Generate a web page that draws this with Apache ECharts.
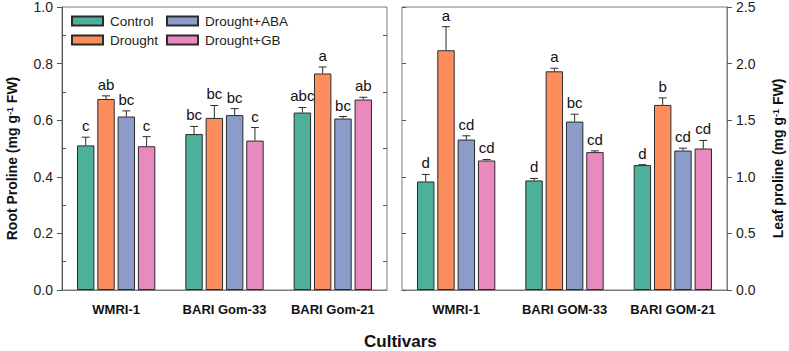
<!DOCTYPE html>
<html>
<head>
<meta charset="utf-8">
<script src="https://cdn.jsdelivr.net/npm/echarts@6/dist/echarts.min.js"></script>
<style>html,body{margin:0;padding:0;background:#fff}#c{width:789px;height:351px}</style>
</head>
<body>
<div id="c"></div>
<script>
// ---- data ----
const treatments = ['Control', 'Drought', 'Drought+ABA', 'Drought+GB'];
const rootCultivars = ['WMRI-1', 'BARI Gom-33', 'BARI Gom-21'];
const leafCultivars = ['WMRI-1', 'BARI GOM-33', 'BARI GOM-21'];
const rootTicks = [0, 0.2, 0.4, 0.6, 0.8, 1.0];
const leafTicks = [0, 0.5, 1.0, 1.5, 2.0, 2.5];

const rootControl = [0.511, 0.551, 0.627];
const rootDrought = [0.675, 0.608, 0.765];
const rootABA = [0.613, 0.618, 0.606];
const rootGB = [0.508, 0.528, 0.673];
const rootControlSE = [0.029, 0.027, 0.018];
const rootDroughtSE = [0.011, 0.044, 0.023];
const rootABASE = [0.020, 0.023, 0.007];
const rootGBSE = [0.034, 0.046, 0.008];
const rootControlSig = ['c', 'bc', 'abc'];
const rootDroughtSig = ['ab', 'bc', 'a'];
const rootABASig = ['bc', 'bc', 'bc'];
const rootGBSig = ['c', 'c', 'ab'];

const leafControl = [0.959, 0.968, 1.103];
const leafDrought = [2.118, 1.932, 1.635];
const leafABA = [1.329, 1.488, 1.232];
const leafGB = [1.144, 1.218, 1.250];
const leafControlSE = [0.062, 0.017, 0.004];
const leafDroughtSE = [0.208, 0.027, 0.062];
const leafABASE = [0.033, 0.065, 0.021];
const leafGBSE = [0.009, 0.011, 0.071];
const leafControlSig = ['d', 'd', 'd'];
const leafDroughtSig = ['a', 'a', 'b'];
const leafABASig = ['cd', 'bc', 'cd'];
const leafGBSig = ['cd', 'cd', 'cd'];

// ---- styling ----
const colors = ['#4cb09b', '#fc8d5c', '#8b9ccb', '#e98abe'];
const FONT = 'Liberation Sans, Arial, Helvetica, sans-serif';
const frameColor = '#7a7a7a';
const BAR_W = 17.4;
const BAR_GAP = 2.9;

const rootMeans = [rootControl, rootDrought, rootABA, rootGB];
const rootSEs = [rootControlSE, rootDroughtSE, rootABASE, rootGBSE];
const rootSigs = [rootControlSig, rootDroughtSig, rootABASig, rootGBSig];
const leafMeans = [leafControl, leafDrought, leafABA, leafGB];
const leafSEs = [leafControlSE, leafDroughtSE, leafABASE, leafGBSE];
const leafSigs = [leafControlSig, leafDroughtSig, leafABASig, leafGBSig];

function errData(means, ses, sigs) {
  const out = [];
  means.forEach((arr, s) => arr.forEach((v, c) => out.push([c, v, v + ses[s][c], sigs[s][c], s])));
  return out;
}

function renderErr(params, api) {
  const c = api.value(0), v = api.value(1), top = api.value(2), sig = api.value(3), s = api.value(4);
  const p0 = api.coord([c, v]);
  const p1 = api.coord([c, top]);
  const x = p0[0] + (s - 1.5) * (BAR_W + BAR_GAP);
  const lineStyle = { stroke: '#2b2b2b', lineWidth: 1 };
  return {
    type: 'group',
    children: [
      { type: 'line', shape: { x1: x, y1: p0[1], x2: x, y2: p1[1] }, style: lineStyle },
      { type: 'line', shape: { x1: x - 4, y1: p1[1], x2: x + 4, y2: p1[1] }, style: lineStyle },
      { type: 'text', style: { text: sig, x: x, y: p1[1] - 4, align: 'center', verticalAlign: 'bottom',
          fill: '#111', font: '15px ' + FONT } }
    ]
  };
}

const tickLabel = { fontSize: 14, color: '#222', fontFamily: FONT, formatter: v => v.toFixed(1) };
const supRich = { sup: { fontSize: 9, fontWeight: 'bold', fontFamily: FONT, color: '#111', verticalAlign: 'top', lineHeight: 10 } };
const legendText = { fontSize: 13.5, color: '#222', fontFamily: FONT, lineHeight: 14, padding: [0, 0, 0, 2] };

const barSeries = [];
treatments.forEach((t, s) => {
  barSeries.push({
    type: 'bar', name: t, xAxisIndex: 0, yAxisIndex: 0, data: rootMeans[s],
    barWidth: BAR_W, barGap: (BAR_GAP / BAR_W * 100).toFixed(1) + '%',
    itemStyle: { color: colors[s], borderColor: '#2b2b2b', borderWidth: 1 }, z: 2
  });
});
treatments.forEach((t, s) => {
  barSeries.push({
    type: 'bar', name: t, xAxisIndex: 1, yAxisIndex: 3, data: leafMeans[s],
    barWidth: BAR_W, barGap: (BAR_GAP / BAR_W * 100).toFixed(1) + '%',
    itemStyle: { color: colors[s], borderColor: '#2b2b2b', borderWidth: 1 }, z: 2
  });
});

const xLabel = { fontSize: 13, fontWeight: 'bold', color: '#111', margin: 13, fontFamily: FONT, interval: 0 };
const nameStyle = { fontSize: 14, fontWeight: 'bold', color: '#111', fontFamily: FONT, rich: supRich, padding: [0, 20, 0, 0] };

const chart = echarts.init(document.getElementById('c'), null, { renderer: 'svg' });
chart.setOption({
  animation: false,
  backgroundColor: '#fff',
  textStyle: { fontFamily: FONT },
  legend: [
    { data: ['Control', 'Drought'], orient: 'vertical', left: 71, top: 14, padding: 0, itemWidth: 31, itemHeight: 9,
      itemGap: 5, textStyle: legendText, icon: 'rect', selectedMode: false },
    { data: ['Drought+ABA', 'Drought+GB'], orient: 'vertical', left: 166, top: 14, padding: 0, itemWidth: 31, itemHeight: 9,
      itemGap: 5, textStyle: legendText, icon: 'rect', selectedMode: false }
  ],
  grid: [
    { left: 62, top: 7, width: 325, height: 283, show: true, borderColor: frameColor, borderWidth: 1, backgroundColor: 'transparent' },
    { left: 402, top: 7, width: 325, height: 283, show: true, borderColor: frameColor, borderWidth: 1, backgroundColor: 'transparent' }
  ],
  xAxis: [
    { type: 'category', gridIndex: 0, data: rootCultivars,
      axisLine: { lineStyle: { color: frameColor } }, axisTick: { alignWithLabel: true, length: 4, lineStyle: { color: '#444' } },
      axisLabel: xLabel },
    { type: 'category', gridIndex: 1, data: leafCultivars,
      axisLine: { lineStyle: { color: frameColor } }, axisTick: { alignWithLabel: true, length: 4, lineStyle: { color: '#444' } },
      axisLabel: xLabel }
  ],
  yAxis: [
    { type: 'value', gridIndex: 0, position: 'left', min: rootTicks[0], max: rootTicks[rootTicks.length - 1], interval: 0.2,
      axisLine: { show: true, lineStyle: { color: '#555' } }, axisTick: { show: true, length: 5, lineStyle: { color: '#555' } },
      splitLine: { show: false }, axisLabel: Object.assign({ margin: 9 }, tickLabel),
      name: 'Root Proline (mg g{sup|-1} FW)', nameLocation: 'middle', nameGap: 43, nameRotate: 90,
      nameTextStyle: nameStyle },
    { type: 'value', gridIndex: 0, position: 'left', min: 0, max: 1, interval: 0.2,
      axisLine: { show: false }, axisTick: { show: false, inside: true }, axisLabel: { show: false }, splitLine: { show: false },
      minorTick: { show: true, splitNumber: 2, length: 4, lineStyle: { color: '#555' } } },
    { type: 'value', gridIndex: 0, position: 'right', min: 0, max: 1, interval: 0.2,
      axisLine: { show: false }, axisTick: { show: false, inside: true }, axisLabel: { show: false }, splitLine: { show: false },
      minorTick: { show: true, splitNumber: 2, length: 4, lineStyle: { color: '#555' } } },
    { type: 'value', gridIndex: 1, position: 'right', min: leafTicks[0], max: leafTicks[leafTicks.length - 1], interval: 0.5,
      axisLine: { show: true, lineStyle: { color: frameColor } }, axisTick: { show: true, length: 5, lineStyle: { color: '#555' } },
      splitLine: { show: false }, axisLabel: Object.assign({ margin: 9 }, tickLabel),
      name: 'Leaf proline (mg g{sup|-1} FW)', nameLocation: 'middle', nameGap: 44, nameRotate: 90,
      nameTextStyle: nameStyle },
    { type: 'value', gridIndex: 1, position: 'left', min: 0, max: 2.5, interval: 0.5,
      axisLine: { show: false }, axisTick: { show: true, inside: true, length: 4, lineStyle: { color: '#555' } },
      axisLabel: { show: false }, splitLine: { show: false } }
  ],
  series: barSeries.concat([
    { type: 'custom', xAxisIndex: 0, yAxisIndex: 0, renderItem: renderErr, data: errData(rootMeans, rootSEs, rootSigs), z: 5, silent: true },
    { type: 'custom', xAxisIndex: 1, yAxisIndex: 3, renderItem: renderErr, data: errData(leafMeans, leafSEs, leafSigs), z: 5, silent: true }
  ]),
  graphic: [
    { type: 'text', left: 364, top: 333, style: { text: 'Cultivars', font: 'bold 17px ' + FONT, fill: '#111' } }
  ]
});
</script>
</body>
</html>
